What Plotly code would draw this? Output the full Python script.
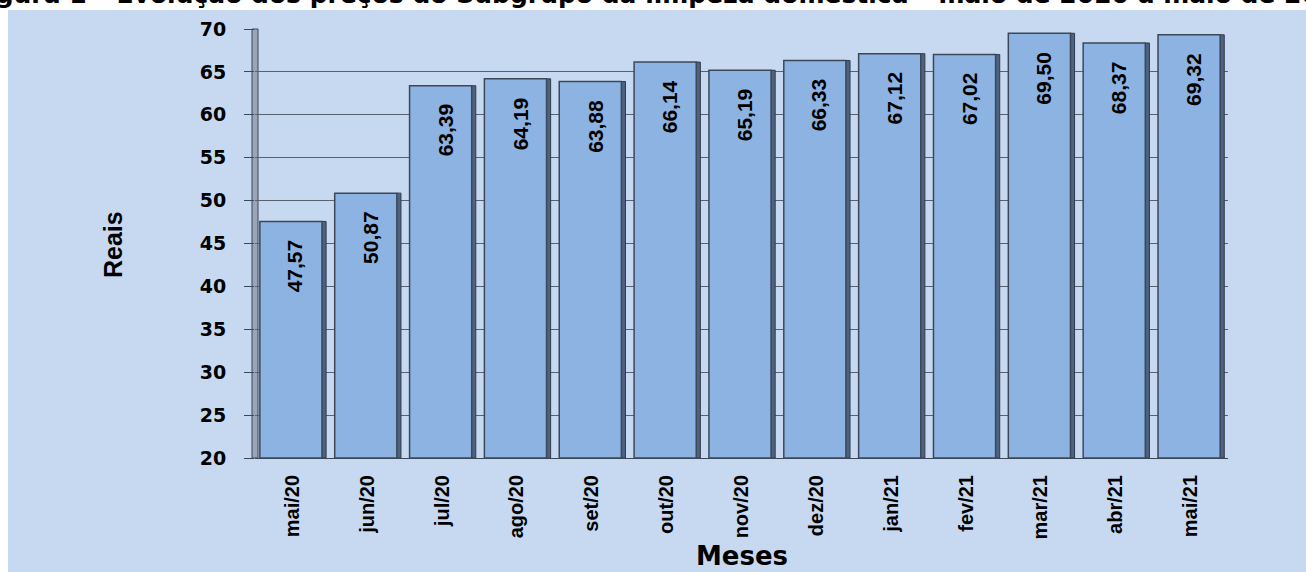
import plotly.graph_objects as go

meses = ["mai/20", "jun/20", "jul/20", "ago/20", "set/20", "out/20", "nov/20",
         "dez/20", "jan/21", "fev/21", "mar/21", "abr/21", "mai/21"]
precos = [47.57, 50.87, 63.39, 64.19, 63.88, 66.14, 65.19, 66.33, 67.12, 67.02,
          69.50, 68.37, 69.32]
y_ticks = [20, 25, 30, 35, 40, 45, 50, 55, 60, 65, 70]
titulo = "Figura 1 – Evolução dos preços do Subgrupo da limpeza doméstica – maio de 2020 a maio de 2021"
rotulos = [f"{v:.2f}".replace(".", ",") for v in precos]

ARIAL = "Liberation Sans, Arial, sans-serif"
WIDE = "DejaVu Sans, Verdana, sans-serif"

W, H = 1306, 572
L, R, T, B = 255, 78, 29, 114
pw, ph = W - L - R, H - T - B

def px_x(p):
    return (p - L) / pw

def px_y(p):
    return (H - B - p) / ph

fig = go.Figure()
# right side face (3D depth)
fig.add_trace(go.Bar(
    x=meses, y=[v - 20 for v in precos], base=20,
    width=0.06, offset=0.39,
    marker=dict(color="#4e6282", line=dict(color="#2f3a4a", width=1)),
    hoverinfo="skip", showlegend=False,
))
# front face
fig.add_trace(go.Bar(
    x=meses, y=[v - 20 for v in precos], base=20,
    width=0.83, offset=-0.435,
    marker=dict(color="#8db3e2", line=dict(color="#3c4858", width=1.5)),
    showlegend=False,
))

for m, v, t in zip(meses, precos, rotulos):
    fig.add_annotation(
        x=m, y=v, text=t, showarrow=False, textangle=-90,
        xanchor="center", yanchor="top", yshift=-16, xshift=3,
        font=dict(family=ARIAL, size=21, color="black", weight="bold"),
    )

# background panel
fig.add_shape(type="rect", xref="paper", yref="paper",
              x0=px_x(8), x1=px_x(W + 20), y0=px_y(H + 20), y1=px_y(10),
              fillcolor="#c6d9f0", line=dict(width=0), layer="below")
# left wall
fig.add_shape(type="rect", xref="paper", yref="paper",
              x0=px_x(252), x1=px_x(258), y0=0, y1=1,
              fillcolor="#9aa6b8", line=dict(color="#3c4858", width=1), layer="below")

fig.add_annotation(
    xref="paper", yref="paper", x=px_x(113), y=px_y(245), text="Reais",
    showarrow=False, textangle=-90, xanchor="center", yanchor="middle",
    font=dict(family=ARIAL, size=25, color="black", weight="bold"),
)
fig.add_annotation(
    xref="paper", yref="paper", x=0.5, y=px_y(556), text="Meses",
    showarrow=False, xanchor="center", yanchor="middle",
    font=dict(family=WIDE, size=26, color="black", weight="bold"),
)
fig.add_annotation(
    xref="paper", yref="paper", x=px_x(1356), y=px_y(11), text=titulo,
    showarrow=False, xanchor="right", yanchor="bottom",
    font=dict(family=WIDE, size=25, color="black", weight="bold"),
)

fig.update_layout(
    width=W, height=H,
    margin=dict(l=L, r=R, t=T, b=B),
    paper_bgcolor="white", plot_bgcolor="rgba(0,0,0,0)",
    barmode="overlay",
    xaxis=dict(
        type="category", range=[-0.5, len(meses) - 0.5],
        tickangle=-90, ticks="", showgrid=False, zeroline=False,
        showline=True, linecolor="#3c4858", linewidth=1,
        tickfont=dict(family=ARIAL, size=20, color="black", weight="bold"),
        ticklabelstandoff=8,
    ),
    yaxis=dict(
        range=[20, 70], tickvals=y_ticks, ticktext=[str(v) for v in y_ticks],
        showgrid=True, gridcolor="#59616c", gridwidth=1,
        ticks="outside", ticklen=10, tickcolor="#3c4858",
        zeroline=False, showline=False,
        tickfont=dict(family=WIDE, size=19, color="black", weight="bold"),
        ticklabelstandoff=14,
    ),
)

fig.write_html("out.html", config={"displayModeBar": False},
               post_script="document.body.style.margin='0';")
